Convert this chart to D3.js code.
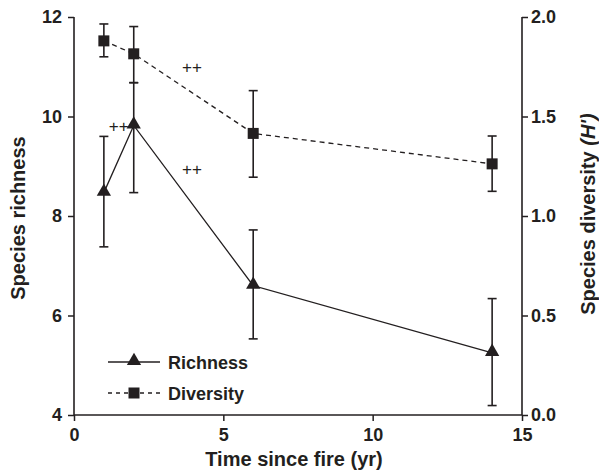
<!DOCTYPE html>
<html>
<head>
<meta charset="utf-8">
<script src="https://cdn.jsdelivr.net/npm/d3@7"></script>
<style>
  body { margin: 0; background: #fff; }
  svg { display: block; font-family: "Liberation Sans", Arial, sans-serif; }
  .b { font-weight: bold; }
</style>
</head>
<body>
<svg id="chart" width="599" height="471"></svg>
<script>
// ---- data ----
const years = [1, 2, 6, 14];
const richness = [8.47, 9.82, 6.6, 5.25];
const richnessLow = [7.38, 8.47, 5.53, 4.19];
const richnessHigh = [9.6, 10.68, 7.72, 6.34];
const diversity = [1.88, 1.815, 1.415, 1.262];
const diversityLow = [1.80, 1.67, 1.195, 1.124];
const diversityHigh = [1.965, 1.952, 1.63, 1.402];
const xTicks = [0, 5, 10, 15];
const leftTicks = [4, 6, 8, 10, 12];
const rightTicks = [0.0, 0.5, 1.0, 1.5, 2.0];
const annotations = [
  { x: 3.95, yR: 11.0, text: "++" },
  { x: 1.5, yR: 9.8, text: "++" },
  { x: 3.95, yR: 8.95, text: "++" }
];
const legendItems = ["Richness", "Diversity"];

// ---- layout ----
const ink = "#231f20";
const svg = d3.select("#chart");
const x = d3.scaleLinear().domain([0, 15]).range([74, 522]);
const yL = d3.scaleLinear().domain([4, 12]).range([415, 17]);
const yR = d3.scaleLinear().domain([0, 2]).range([415, 17]);

// axes
const xAxis = svg.append("g").attr("transform", `translate(0,${yL(4)})`)
  .call(d3.axisBottom(x).tickValues(xTicks).tickSize(6).tickPadding(7).tickFormat(d3.format("d")));
const lAxis = svg.append("g").attr("transform", `translate(${x(0)},0)`)
  .call(d3.axisLeft(yL).tickValues(leftTicks).tickSize(6).tickPadding(6).tickFormat(d3.format("d")));
const rAxis = svg.append("g").attr("transform", `translate(${x(15)},0)`)
  .call(d3.axisRight(yR).tickValues(rightTicks).tickSize(6).tickPadding(3).tickFormat(d3.format(".1f")));
[xAxis, lAxis, rAxis].forEach(a => {
  a.attr("font-family", null).attr("font-size", null);
  a.select(".domain").attr("stroke", ink).attr("stroke-width", 1.6);
  a.selectAll(".tick line").attr("stroke", ink).attr("stroke-width", 1.5);
  a.selectAll(".tick text").attr("fill", ink)
    .style("font-size", "18px").style("font-weight", "bold")
    .style("font-family", "'Liberation Sans', Arial, sans-serif");
});
// plain domains (no outer ticks)
xAxis.select(".domain").attr("d", `M${x(0)},0H${x(15)}`);
lAxis.select(".domain").attr("d", `M0,${yL(4)}V${yL(12)}`);
rAxis.select(".domain").attr("d", `M0,${yR(0)}V${yR(2)}`);

// axis titles
svg.append("text").attr("x", 294).attr("y", 466).attr("text-anchor", "middle")
  .style("font-size", "20px").style("font-weight", "bold").attr("fill", ink).text("Time since fire (yr)");
svg.append("text").attr("transform", "translate(25,218) rotate(-90)").attr("text-anchor", "middle")
  .style("font-size", "20px").style("font-weight", "bold").attr("fill", ink).text("Species richness");
const rt = svg.append("text").attr("transform", "translate(595,214) rotate(-90)").attr("text-anchor", "middle")
  .style("font-size", "20px").style("font-weight", "bold").attr("fill", ink);
rt.append("tspan").text("Species diversity ");
rt.append("tspan").style("font-style", "italic").text("(H')");

// lines
const rich = years.map((d, i) => ({ x: d, y: richness[i], lo: richnessLow[i], hi: richnessHigh[i] }));
const div = years.map((d, i) => ({ x: d, y: diversity[i], lo: diversityLow[i], hi: diversityHigh[i] }));

svg.append("path").datum(div).attr("fill", "none").attr("stroke", ink).attr("stroke-width", 1.3)
  .attr("stroke-dasharray", "5,4")
  .attr("d", d3.line().x(d => x(d.x)).y(d => yR(d.y)));
svg.append("path").datum(rich).attr("fill", "none").attr("stroke", ink).attr("stroke-width", 1.3)
  .attr("d", d3.line().x(d => x(d.x)).y(d => yL(d.y)));

// error bars
function errorBars(data, ys) {
  const g = svg.append("g").attr("stroke", ink).attr("stroke-width", 1.6);
  data.forEach(d => {
    g.append("line").attr("x1", x(d.x)).attr("x2", x(d.x)).attr("y1", ys(d.lo)).attr("y2", ys(d.hi));
    [d.lo, d.hi].forEach(v => g.append("line").attr("x1", x(d.x) - 4.5).attr("x2", x(d.x) + 4.5)
      .attr("y1", ys(v)).attr("y2", ys(v)));
  });
}
errorBars(div, yR);
errorBars(rich, yL);

// markers
const tri = d3.symbol().type(d3.symbolTriangle).size(88);
svg.append("g").selectAll("path").data(rich).join("path")
  .attr("d", tri).attr("fill", ink)
  .attr("transform", d => `translate(${x(d.x)},${yL(d.y) - 1})`);
svg.append("g").selectAll("rect").data(div).join("rect")
  .attr("x", d => x(d.x) - 5.5).attr("y", d => yR(d.y) - 5.5).attr("width", 11).attr("height", 11)
  .attr("fill", ink);

// annotations
svg.append("g").selectAll("text").data(annotations).join("text")
  .attr("x", d => x(d.x)).attr("y", d => yL(d.yR) + 6).attr("text-anchor", "middle")
  .style("font-size", "17px").attr("fill", ink).text(d => d.text);

// legend
const leg = svg.append("g");
const rows = [362, 393];
leg.append("line").attr("x1", 108).attr("x2", 160).attr("y1", rows[0]).attr("y2", rows[0])
  .attr("stroke", ink).attr("stroke-width", 1.3);
leg.append("path").attr("d", tri).attr("fill", ink).attr("transform", `translate(134,${rows[0] - 1})`);
leg.append("line").attr("x1", 108).attr("x2", 160).attr("y1", rows[1]).attr("y2", rows[1])
  .attr("stroke", ink).attr("stroke-width", 1.3).attr("stroke-dasharray", "4,4");
leg.append("rect").attr("x", 128.5).attr("y", rows[1] - 5.5).attr("width", 11).attr("height", 11).attr("fill", ink);
leg.selectAll("text").data(legendItems).join("text")
  .attr("x", 168).attr("y", (d, i) => rows[i] + 7)
  .style("font-size", "18px").style("font-weight", "bold")
  .attr("fill", ink).text(d => d);
</script>
</body>
</html>
